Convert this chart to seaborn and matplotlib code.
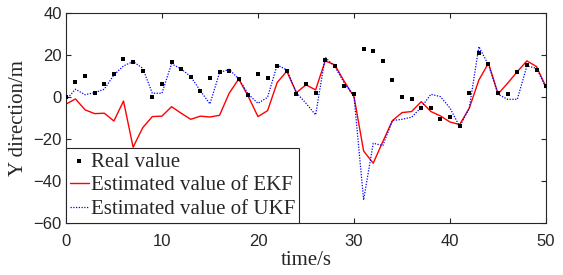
import numpy as np
import pandas as pd
import matplotlib
matplotlib.use("Agg")
import matplotlib.pyplot as plt
import seaborn as sns

# time axis and the three series
time_s = list(range(51))
real_value = [0.3, 7.4, 10.0, 2.0, 6.2, 11.0, 18.2, 16.8, 12.7, 0.3,
              6.2, 17.0, 13.3, 9.8, 3.1, 9.2, 11.9, 12.5, 8.6, 1.1,
              11.2, 9.3, 15.0, 12.4, 1.7, 6.3, 1.9, 17.6, 14.8, 5.2,
              1.6, 23.1, 22.2, 17.4, 8.4, 0.3, -0.8, -5.0, -5.2, -10.5,
              -9.4, -13.7, 2.2, 21.2, 16.0, 1.9, 1.6, 12.0, 15.4, 12.9, 5.2]
ekf = [-3.3, -0.8, -6.0, -7.8, -7.6, -11.3, -1.8, -23.8, -14.5, -9.2,
       -9.0, -4.5, -7.6, -10.5, -9.0, -9.4, -8.6, 1.9, 8.7, 0.3,
       -9.2, -6.4, 7.0, 12.4, 2.2, 5.9, 3.5, 17.3, 15.4, 7.4,
       0.3, -25.6, -31.4, -21.1, -11.1, -7.3, -6.8, -2.1, -6.8, -8.9,
       -11.8, -13.0, -5.2, 8.2, 16.2, 1.6, 6.7, 12.2, 17.3, 14.6, 4.8]
ukf = [-1.3, 3.8, 1.2, 2.2, 3.8, 10.6, 14.9, 17.0, 13.8, 1.9,
       1.9, 15.9, 13.5, 9.8, 3.1, -3.2, 11.7, 13.3, 8.7, 1.4,
       -2.9, 0.0, 15.4, 13.0, 2.2, -2.9, -8.4, 19.0, 14.6, 6.7,
       0.3, -48.9, -21.9, -23.0, -11.1, -10.5, -9.5, -4.8, 1.4, 0.3,
       -5.2, -14.0, -5.2, 24.1, 15.4, 1.4, -1.0, -1.0, 14.9, 13.8, 4.3]

x_ticks = [0, 10, 20, 30, 40, 50]
y_ticks = [-60, -40, -20, 0, 20, 40]

df = pd.DataFrame({"t": time_s, "real": real_value, "ekf": ekf, "ukf": ukf})

sns.set_style("ticks")
serif = "Liberation Serif"
sans = "Liberation Sans"

fig = plt.figure(figsize=(5.63, 2.75), dpi=100)
ax = fig.add_axes([0.117, 0.188, 0.853, 0.764])

sns.scatterplot(data=df, x="t", y="real", marker="s", s=9, color="black",
                linewidth=0, ax=ax, label="Real value", zorder=3)
sns.lineplot(data=df, x="t", y="ekf", color="red", lw=1.0, ax=ax,
             label="Estimated value of EKF", zorder=2)
sns.lineplot(data=df, x="t", y="ukf", color="blue", lw=0.9,
             dashes=False, ax=ax, label="Estimated value of UKF", zorder=2.5)
# dotted style for the UKF line
ax.get_lines()[-1].set_linestyle((0, (1, 1.2)))

ax.set_xlim(0, 50)
ax.set_ylim(-60, 40)
ax.set_xticks(x_ticks)
ax.set_yticks(y_ticks)
for lab in ax.get_xticklabels() + ax.get_yticklabels():
    lab.set_fontfamily(sans)
    lab.set_fontsize(12)
    lab.set_color("#262626")
ax.tick_params(direction="in", length=3.5, width=0.8, top=True, right=True)
ax.tick_params(axis="x", pad=8)
ax.tick_params(axis="y", pad=3)
for sp in ax.spines.values():
    sp.set_visible(True)
    sp.set_linewidth(0.8)
    sp.set_color("#262626")

ax.set_xlabel("time/s", fontfamily=serif, fontsize=15, labelpad=1)
ax.set_ylabel("Y direction/m", fontfamily=serif, fontsize=15, labelpad=4)

leg = ax.legend(loc="lower left", bbox_to_anchor=(0, 0), borderaxespad=0,
                prop={"family": serif, "size": 15}, handlelength=0.9,
                handletextpad=0.1, borderpad=0.2, labelspacing=0.2,
                fancybox=False, framealpha=1, edgecolor="#262626")
leg.get_frame().set_linewidth(0.8)
leg.get_lines()[-1].set_linestyle((0, (1, 1.2)))

fig.savefig("out.png", dpi=100)
